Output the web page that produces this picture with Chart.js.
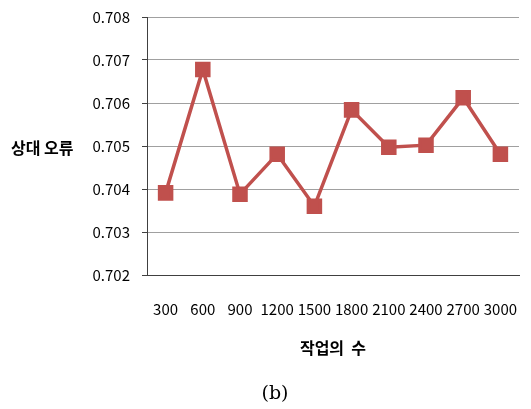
<!DOCTYPE html>
<html>
<head>
<meta charset="utf-8">
<script src="https://cdn.jsdelivr.net/npm/chart.js@4"></script>
<style>
  html, body { margin: 0; padding: 0; background: #fff; }
  #wrap { position: relative; width: 531px; height: 409px; }
</style>
</head>
<body>
<div id="wrap"><canvas id="chart" width="531" height="409"></canvas></div>
<script>
  // values
  var jobCounts = ['300', '600', '900', '1200', '1500', '1800', '2100', '2400', '2700', '3000'];
  var relError = [0.70391, 0.70678, 0.70388, 0.70481, 0.70360, 0.70584, 0.70497, 0.70502, 0.70612, 0.70481];

  var xTitle = '작업의  수';
  var yTitle = '상대 오류';
  var caption = '(b)';

  var red = '#C0504D';
  var tickFont = { family: '"Noto Sans CJK KR", "Noto Sans", sans-serif', size: 15 };

  // extra text that Chart.js can't place the way the picture does
  var labelsPlugin = {
    id: 'labels',
    afterDraw: function(chart) {
      var ctx = chart.ctx;
      var area = chart.chartArea;
      ctx.save();
      ctx.fillStyle = '#000';
      ctx.textBaseline = 'middle';

      ctx.font = 'bold 16px "Noto Sans CJK KR", sans-serif';
      ctx.textAlign = 'left';
      ctx.fillText(yTitle, 11, 148);

      ctx.textAlign = 'center';
      ctx.fillText(xTitle, (area.left + area.right) / 2, 348);

      ctx.font = '19px "DejaVu Serif", "Liberation Serif", serif';
      ctx.fillText(caption, 275, 394);
      ctx.restore();
    }
  };

  new Chart(document.getElementById('chart'), {
    type: 'line',
    data: {
      labels: jobCounts,
      datasets: [{
        data: relError,
        borderColor: red,
        backgroundColor: red,
        borderWidth: 3.5,
        pointStyle: 'rect',
        pointRadius: 8.5,
        pointHoverRadius: 8.5,
        tension: 0
      }]
    },
    options: {
      responsive: false,
      animation: false,
      layout: { padding: { left: 0, right: 4, top: 17, bottom: 0 } },
      plugins: { legend: { display: false }, tooltip: { enabled: false } },
      scales: {
        x: {
          offset: true,
          grid: { display: false },
          border: { color: '#404040', width: 1 },
          ticks: { color: '#000', font: tickFont, padding: 17, maxRotation: 0, autoSkip: false },
          afterFit: function(scale) {
            scale.height = 134;
            scale.paddingLeft = 0;
            scale.paddingRight = 0;
          }
        },
        y: {
          min: 0.702,
          max: 0.708,
          grid: { color: '#a0a0a0', tickLength: 5, tickColor: '#404040' },
          border: { color: '#404040', width: 1 },
          ticks: {
            stepSize: 0.001,
            color: '#000',
            font: tickFont,
            padding: 12,
            callback: function(v) { return v.toFixed(3); }
          },
          afterFit: function(scale) {
            scale.width = 147;
            scale.paddingTop = 0;
            scale.paddingBottom = 0;
          }
        }
      }
    },
    plugins: [labelsPlugin]
  });
</script>
</body>
</html>
